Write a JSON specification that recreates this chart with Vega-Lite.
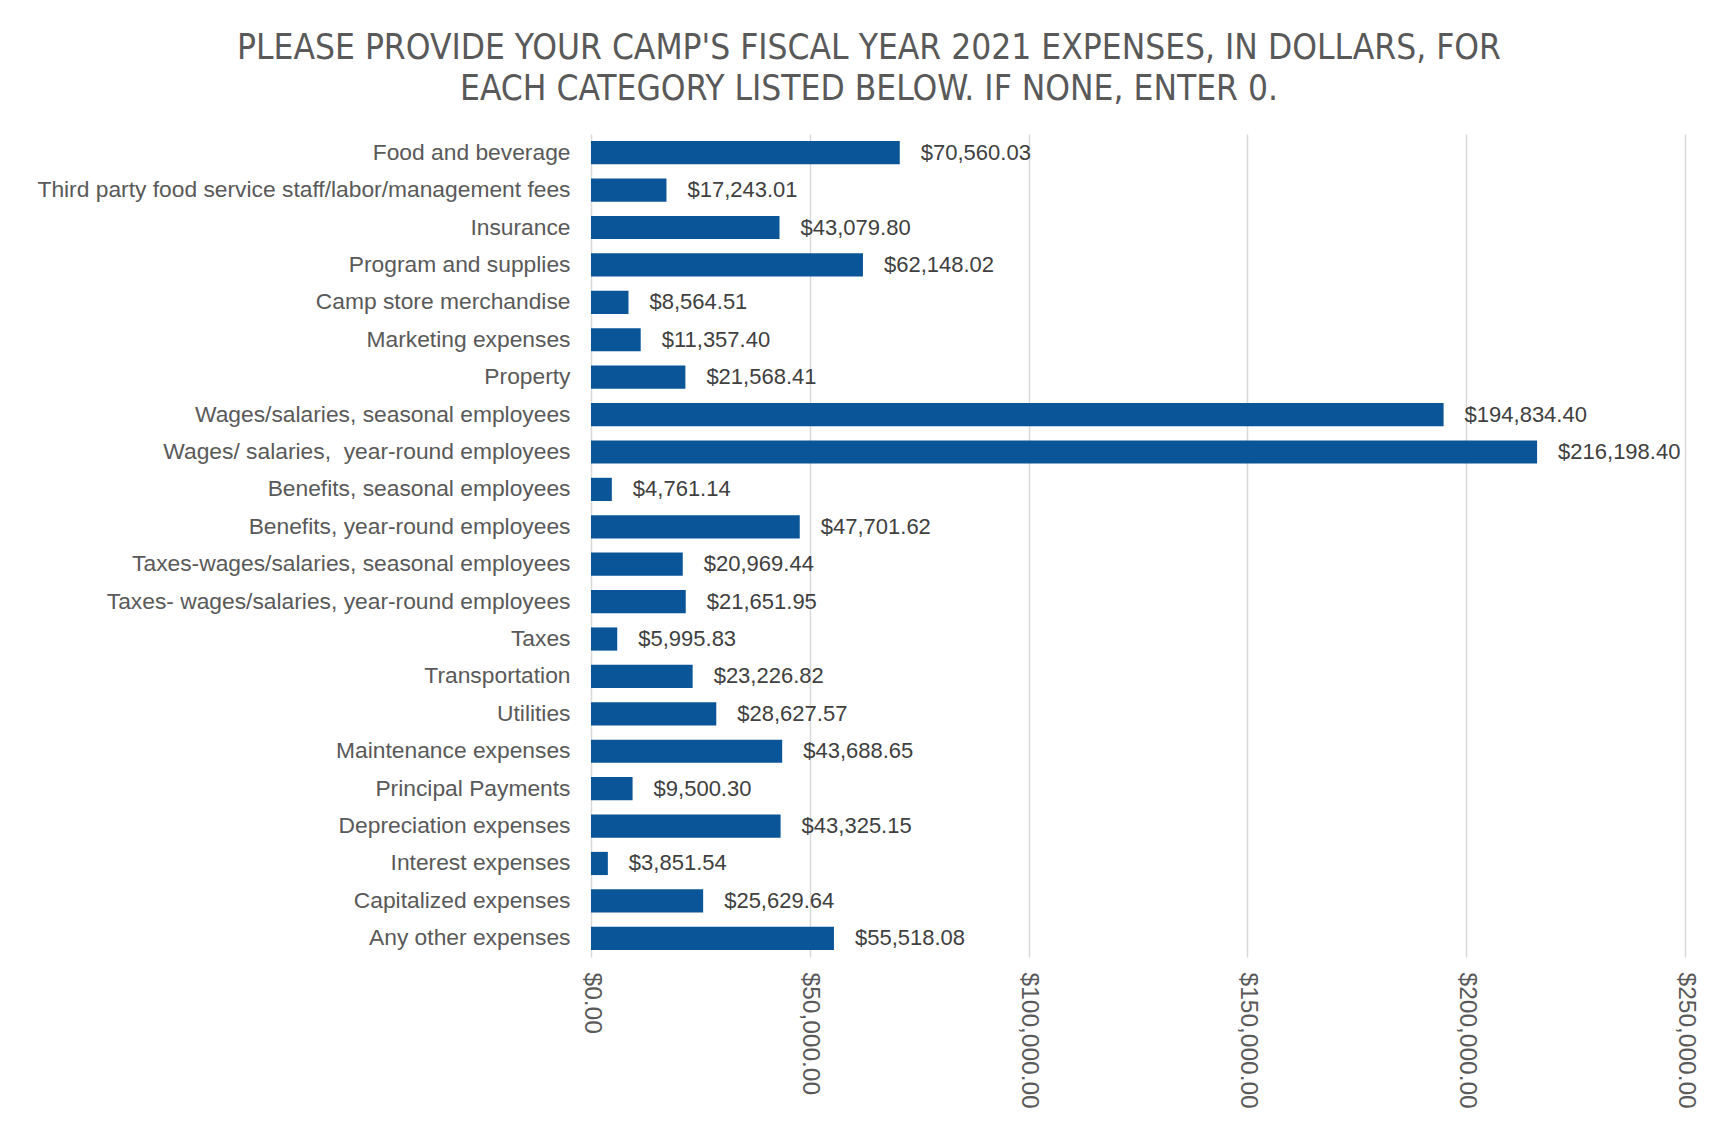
{
  "$schema": "https://vega.github.io/schema/vega-lite/v6.json",
  "autosize": {"type": "none"},
  "padding": {"left": 591, "top": 134, "right": 39, "bottom": 175},
  "width": 1094,
  "height": 823,
  "background": "white",
  "title": {
    "text": ["PLEASE PROVIDE YOUR CAMP'S FISCAL YEAR 2021 EXPENSES, IN DOLLARS, FOR", "EACH CATEGORY LISTED BELOW. IF NONE, ENTER 0."],
    "font": "DejaVu Sans Condensed",
    "fontSize": 35,
    "fontWeight": "normal",
    "color": "#595959",
    "lineHeight": 41,
    "anchor": "middle",
    "dx": -269,
    "offset": 27
  },
  "data": {
    "values": [
      {"category": "Food and beverage", "amount": 70560.03},
      {"category": "Third party food service staff/labor/management fees", "amount": 17243.01},
      {"category": "Insurance", "amount": 43079.80},
      {"category": "Program and supplies", "amount": 62148.02},
      {"category": "Camp store merchandise", "amount": 8564.51},
      {"category": "Marketing expenses", "amount": 11357.40},
      {"category": "Property", "amount": 21568.41},
      {"category": "Wages/salaries, seasonal employees", "amount": 194834.40},
      {"category": "Wages/ salaries,\u00a0 year-round employees\u00a0", "amount": 216198.40},
      {"category": "Benefits, seasonal employees", "amount": 4761.14},
      {"category": "Benefits, year-round employees\u00a0", "amount": 47701.62},
      {"category": "Taxes-wages/salaries, seasonal employees\u00a0", "amount": 20969.44},
      {"category": "Taxes- wages/salaries, year-round employees\u00a0", "amount": 21651.95},
      {"category": "Taxes\u00a0", "amount": 5995.83},
      {"category": "Transportation", "amount": 23226.82},
      {"category": "Utilities", "amount": 28627.57},
      {"category": "Maintenance expenses", "amount": 43688.65},
      {"category": "Principal Payments", "amount": 9500.30},
      {"category": "Depreciation expenses", "amount": 43325.15},
      {"category": "Interest expenses", "amount": 3851.54},
      {"category": "Capitalized expenses", "amount": 25629.64},
      {"category": "Any other expenses", "amount": 55518.08}
    ]
  },
  "encoding": {
    "y": {
      "field": "category",
      "type": "nominal",
      "sort": null,
      "title": null,
      "scale": {"paddingInner": 0.38, "paddingOuter": 0.19},
      "axis": {
        "domain": false,
        "ticks": false,
        "labelFont": "Liberation Sans",
        "labelFontSize": 22.8,
        "labelColor": "#595959",
        "labelPadding": 21,
        "labelLimit": 700
      }
    },
    "x": {
      "field": "amount",
      "type": "quantitative",
      "title": null,
      "scale": {"domain": [0, 250000], "nice": false},
      "axis": {
        "values": [0, 50000, 100000, 150000, 200000, 250000],
        "format": "$,.2f",
        "domain": false,
        "ticks": false,
        "grid": true,
        "gridColor": "#d9d9d9",
        "gridWidth": 1.5,
        "labelAngle": 90,
        "labelAlign": "left",
        "labelBaseline": "middle",
        "labelPadding": 15,
        "labelFont": "Liberation Sans",
        "labelFontSize": 24.5,
        "labelColor": "#595959",
        "labelFlush": false,
        "labelOverlap": false
      }
    }
  },
  "layer": [
    {"mark": {"type": "bar", "color": "#0a5597"}},
    {
      "mark": {"type": "text", "align": "left", "baseline": "middle", "dx": 21, "font": "Liberation Sans", "fontSize": 22, "color": "#404040"},
      "encoding": {"text": {"field": "amount", "type": "quantitative", "format": "$,.2f"}}
    }
  ],
  "config": {"view": {"stroke": null}}
}
